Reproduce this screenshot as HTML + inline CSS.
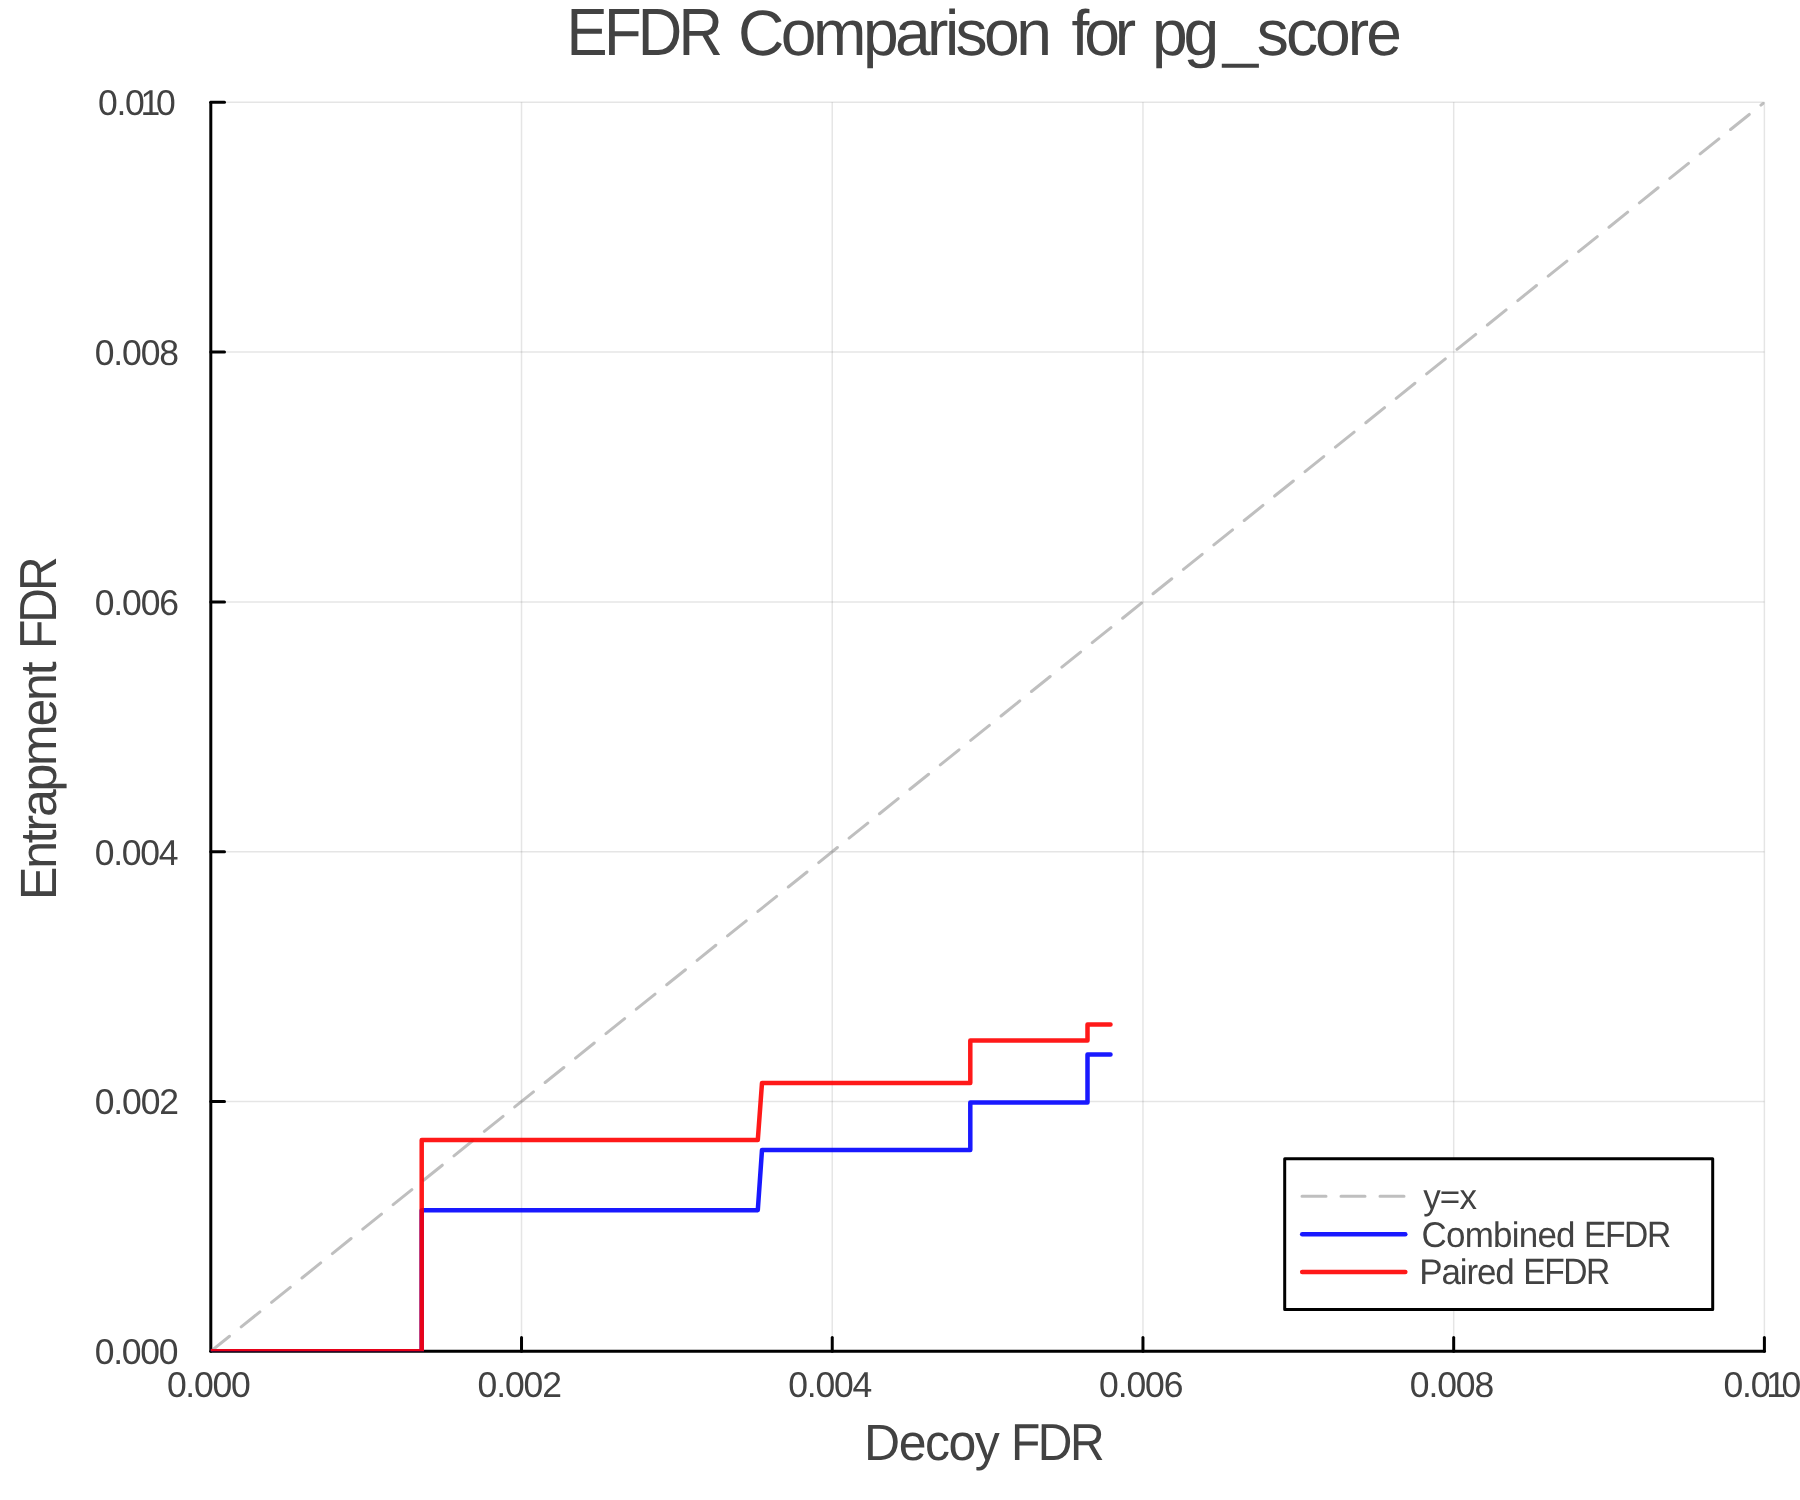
<!DOCTYPE html>
<html lang="en">
<head>
<meta charset="utf-8">
<title>EFDR Comparison for pg_score</title>
<style>
html,body{margin:0;padding:0;background:#ffffff;}
body{width:1800px;height:1500px;font-family:"Liberation Sans", sans-serif;}
svg{display:block;will-change:transform;}
text{font-family:"Liberation Sans", sans-serif;fill:#424242;text-rendering:geometricPrecision;}
</style>
</head>
<body>
<svg width="1800" height="1500" viewBox="0 0 1800 1500">
<rect x="0" y="0" width="1800" height="1500" fill="#ffffff"/>

<g stroke="#000000" stroke-opacity="0.1" stroke-width="1.5" fill="none">
<line x1="521.52" y1="102.30" x2="521.52" y2="1351.30"/>
<line x1="210.80" y1="1101.50" x2="1764.40" y2="1101.50"/>
<line x1="832.24" y1="102.30" x2="832.24" y2="1351.30"/>
<line x1="210.80" y1="851.70" x2="1764.40" y2="851.70"/>
<line x1="1142.96" y1="102.30" x2="1142.96" y2="1351.30"/>
<line x1="210.80" y1="601.90" x2="1764.40" y2="601.90"/>
<line x1="1453.68" y1="102.30" x2="1453.68" y2="1351.30"/>
<line x1="210.80" y1="352.10" x2="1764.40" y2="352.10"/>
<line x1="1764.40" y1="102.30" x2="1764.40" y2="1351.30"/>
<line x1="210.80" y1="102.30" x2="1764.40" y2="102.30"/>
</g>
<g stroke="#000000" stroke-width="3.0" fill="none" stroke-linecap="round">
<line x1="210.80" y1="1351.30" x2="1764.40" y2="1351.30"/>
<line x1="210.80" y1="102.30" x2="210.80" y2="1351.30"/>
<line x1="521.52" y1="1351.30" x2="521.52" y2="1337.60"/>
<line x1="210.80" y1="1101.50" x2="224.50" y2="1101.50"/>
<line x1="832.24" y1="1351.30" x2="832.24" y2="1337.60"/>
<line x1="210.80" y1="851.70" x2="224.50" y2="851.70"/>
<line x1="1142.96" y1="1351.30" x2="1142.96" y2="1337.60"/>
<line x1="210.80" y1="601.90" x2="224.50" y2="601.90"/>
<line x1="1453.68" y1="1351.30" x2="1453.68" y2="1337.60"/>
<line x1="210.80" y1="352.10" x2="224.50" y2="352.10"/>
<line x1="1764.40" y1="1351.30" x2="1764.40" y2="1337.60"/>
<line x1="210.80" y1="102.30" x2="224.50" y2="102.30"/>
</g>
<clipPath id="plotclip"><rect x="210.80" y="102.30" width="1553.60" height="1249.00"/></clipPath>
<g clip-path="url(#plotclip)">
<line x1="210.80" y1="1351.30" x2="1764.40" y2="102.30" stroke="#808080" stroke-opacity="0.5" stroke-width="3" stroke-dasharray="24 15" stroke-linecap="round"/>
<path d="M210.8 1351.3 L421.7 1351.3 L421.7 1210.2 L757.8 1210.2 L762.0 1150.0 L970.3 1150.0 L970.3 1102.5 L1087.5 1102.5 L1087.5 1054.5 L1110.5 1054.5" fill="none" stroke="#0000ff" stroke-opacity="0.9" stroke-width="4.5" stroke-linejoin="round" stroke-linecap="round"/>
<path d="M210.8 1351.3 L421.7 1351.3 L421.7 1140.0 L757.8 1140.0 L762.0 1083.0 L970.3 1083.0 L970.3 1040.4 L1087.5 1040.4 L1087.5 1024.5 L1110.5 1024.5" fill="none" stroke="#ff0000" stroke-opacity="0.9" stroke-width="4.5" stroke-linejoin="round" stroke-linecap="round"/>
</g>
<text transform="translate(566.58 55.00) scale(0.960 1.044)" font-size="64.20" letter-spacing="-3.931">EFDR</text>
<text transform="translate(738.09 55.00)" font-size="64.20" letter-spacing="-3.577">Comparison</text>
<text transform="translate(1071.40 55.00)" font-size="64.20" letter-spacing="-5.104">for</text>
<text transform="translate(1151.89 55.00)" font-size="64.20" letter-spacing="-4.092">pg</text>
<text transform="translate(1222.69 55.00) scale(0.992 1.000)" font-size="64.20" letter-spacing="0.000">_</text>
<text transform="translate(1256.80 55.00)" font-size="64.20" letter-spacing="-2.946">score</text>
<text transform="translate(864.09 1460.00) scale(1.000 1.020)" font-size="50.00" letter-spacing="-1.529">Decoy</text>
<text transform="translate(1010.95 1460.00) scale(0.960 1.042)" font-size="50.00" letter-spacing="-2.570">FDR</text>
<text transform="translate(56.10 899.91) rotate(-90) scale(1.000 1.020)" font-size="50.00" letter-spacing="-2.226">Entrapment</text>
<text transform="translate(56.10 649.05) rotate(-90) scale(0.960 1.042)" font-size="50.00" letter-spacing="-3.091">FDR</text>
<text transform="translate(166.89 1396.70) scale(1.000 1.010)" font-size="35.50" letter-spacing="-1.261">0.000</text>
<text transform="translate(94.69 1364.10) scale(1.000 1.010)" font-size="35.50" letter-spacing="-1.261">0.000</text>
<text transform="translate(477.61 1396.70) scale(1.000 1.010)" font-size="35.50" letter-spacing="-1.122">0.002</text>
<text transform="translate(94.69 1114.30) scale(1.000 1.010)" font-size="35.50" letter-spacing="-1.122">0.002</text>
<text transform="translate(788.33 1396.70) scale(1.000 1.010)" font-size="35.50" letter-spacing="-1.261">0.004</text>
<text transform="translate(94.69 864.50) scale(1.000 1.010)" font-size="35.50" letter-spacing="-1.261">0.004</text>
<text transform="translate(1099.05 1396.70) scale(1.000 1.010)" font-size="35.50" letter-spacing="-1.122">0.006</text>
<text transform="translate(94.69 614.70) scale(1.000 1.010)" font-size="35.50" letter-spacing="-1.122">0.006</text>
<text transform="translate(1409.77 1396.70) scale(1.000 1.010)" font-size="35.50" letter-spacing="-1.122">0.008</text>
<text transform="translate(94.69 364.90) scale(1.000 1.010)" font-size="35.50" letter-spacing="-1.122">0.008</text>
<text transform="translate(1723.59 1396.70) scale(1 1.010)" font-size="35.50" letter-spacing="-1.261">0.0<tspan dx="-3.0">1</tspan><tspan dx="-3.1">0</tspan></text>
<text transform="translate(97.99 115.10) scale(1 1.010)" font-size="35.50" letter-spacing="-1.261">0.0<tspan dx="-3.0">1</tspan><tspan dx="-3.1">0</tspan></text>
<rect x="1284.7" y="1158.7" width="428.0" height="150.7" fill="#ffffff" stroke="#000000" stroke-width="3" stroke-linejoin="round"/>
<line x1="1302" y1="1196.3" x2="1405.5" y2="1196.3" stroke="#808080" stroke-opacity="0.5" stroke-width="3" stroke-dasharray="24 15" stroke-linecap="round"/>
<line x1="1302.2" y1="1234.2" x2="1405.3" y2="1234.2" stroke="#0000ff" stroke-opacity="0.9" stroke-width="4.5" stroke-linecap="round"/>
<line x1="1302.2" y1="1272.0" x2="1405.3" y2="1272.0" stroke="#ff0000" stroke-opacity="0.9" stroke-width="4.5" stroke-linecap="round"/>
<text transform="translate(1423.20 1208.90) scale(1.000 1.020)" font-size="35.00" letter-spacing="-0.870">y=x</text>
<text transform="translate(1421.56 1246.50) scale(1.000 1.020)" font-size="35.00" letter-spacing="-0.790">Combined</text>
<text transform="translate(1583.97 1246.50) scale(0.960 1.045)" font-size="35.00" letter-spacing="-1.450">EFDR</text>
<text transform="translate(1419.37 1283.90) scale(1.000 1.020)" font-size="35.00" letter-spacing="-1.174">Paired</text>
<text transform="translate(1523.28 1283.90) scale(0.960 1.045)" font-size="35.00" letter-spacing="-1.554">EFDR</text>
</svg>
</body>
</html>
